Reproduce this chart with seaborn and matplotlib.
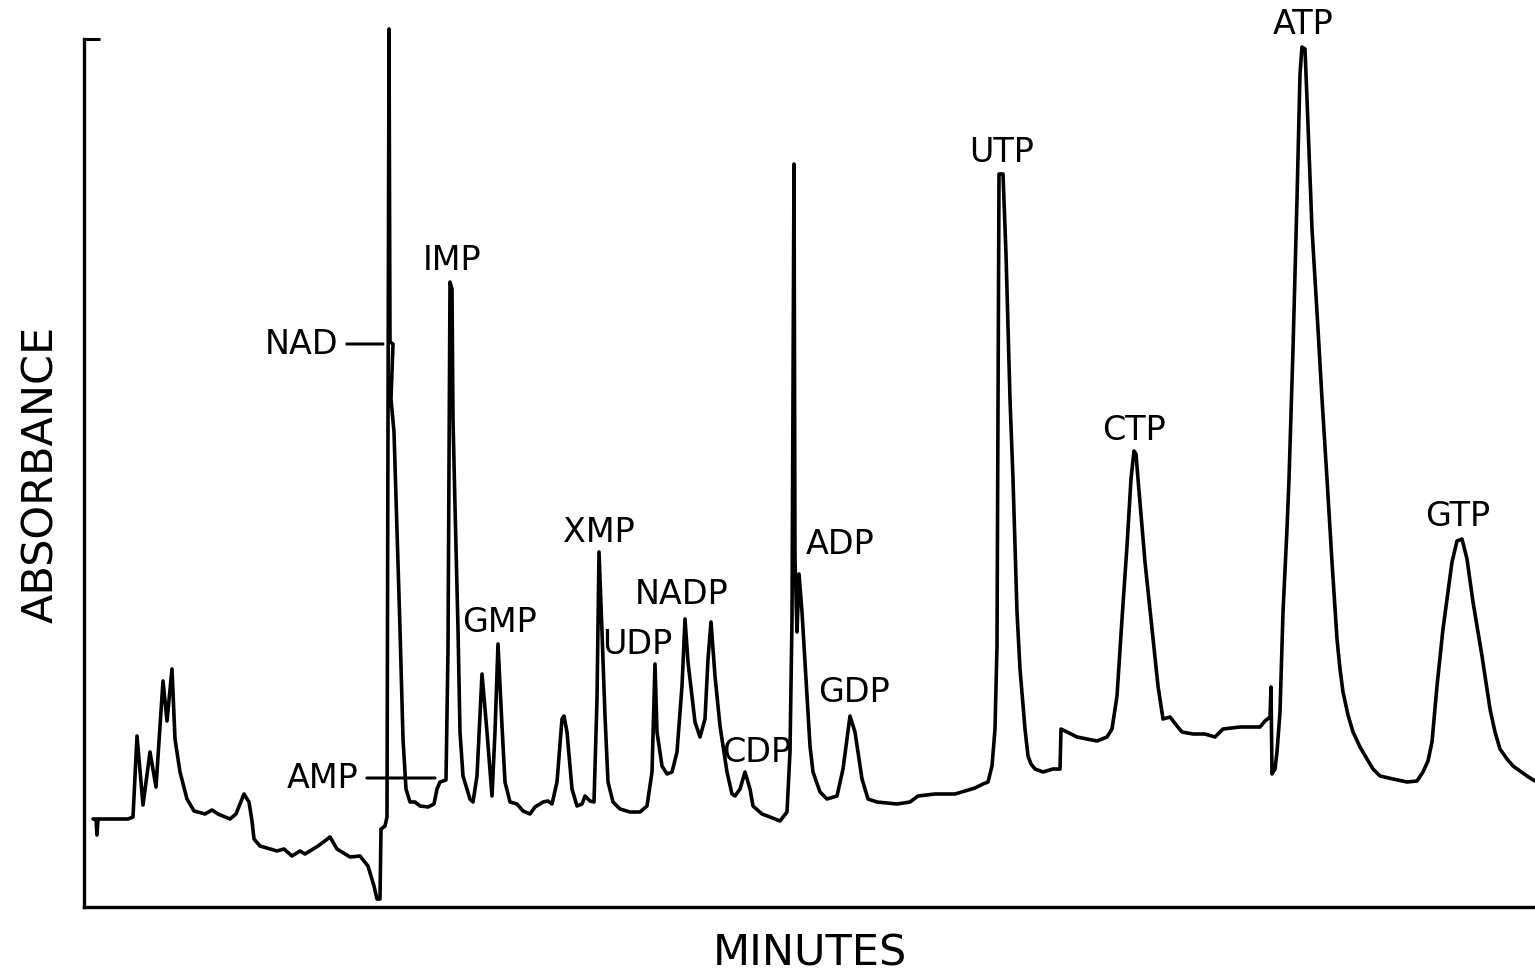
import numpy as np
import pandas as pd
import matplotlib
matplotlib.use("Agg")
import matplotlib.pyplot as plt
import seaborn as sns

# ---- data (time: arbitrary units, absorbance: arbitrary units)
time = [9, 12, 13, 14, 44, 49, 53, 59, 66, 72, 79, 83, 88, 91, 96, 103, 110, 121, 128, 134,
        146, 152, 160, 165, 168, 170, 176, 193, 200, 208, 216, 221, 234, 246, 253, 266, 276, 284, 290, 293,
        296, 297, 301, 303, 305, 306, 309, 307, 310, 316, 319, 322, 326, 331, 336, 344, 350, 353, 356, 362,
        364, 366, 368, 369, 371, 374, 376, 379, 386, 389, 393, 398, 403, 408, 411, 414, 418, 421, 426, 433,
        439, 446, 451, 459, 464, 468, 473, 478, 480, 483, 488, 493, 498, 501, 506, 510, 513, 515, 518, 521,
        524, 529, 536, 546, 556, 563, 568, 571, 573, 578, 583, 588, 593, 598, 601, 604, 611, 616, 621, 624,
        627, 631, 636, 643, 648, 651, 656, 661, 666, 669, 678, 686, 696, 703, 706, 708, 710, 711, 713, 715,
        718, 723, 726, 729, 736, 743, 753, 759, 766, 771, 778, 784, 793, 803, 813, 826, 834, 851, 871, 881,
        891, 899, 904, 908, 911, 913, 915, 919, 922, 926, 929, 933, 936, 941, 944, 947, 951, 959, 969, 976, 977,
        983, 993, 1003, 1013, 1023, 1028, 1033, 1038, 1043, 1047, 1050, 1052, 1054, 1061, 1068, 1074, 1079, 1086, 1093, 1098,
        1109, 1121, 1131, 1139, 1156, 1176, 1181, 1186, 1187, 1188, 1191, 1193, 1196, 1199, 1203, 1205, 1209, 1213, 1216, 1218,
        1221, 1223, 1228, 1234, 1238, 1243, 1248, 1253, 1256, 1259, 1264, 1269, 1276, 1283, 1289, 1296, 1309, 1323, 1333, 1339,
        1344, 1348, 1353, 1359, 1368,
        1373, 1378, 1383, 1389, 1398, 1406, 1411, 1416, 1423, 1429, 1443, 1451]
absorbance = [88, 88, 72, 88, 88, 90, 171, 102, 155, 120, 226, 186, 238, 168, 135, 108, 96, 93, 97, 93,
              88, 93, 113, 105, 86, 68, 61, 56, 58, 51, 56, 53, 61, 70, 58, 50, 51, 41, 21, 8,
              8, 78, 81, 90, 878, 565, 563, 508, 475, 278, 168, 118, 105, 105, 101, 100, 103, 118, 125, 127,
              258, 625, 618, 488, 401, 278, 175, 131, 108, 105, 131, 233, 175, 111, 175, 263, 181, 125, 105, 103,
              96, 93, 100, 105, 106, 103, 125, 188, 191, 175, 118, 101, 103, 111, 106, 105, 208, 355, 275, 191,
              125, 105, 98, 95, 95, 101, 135, 243, 175, 141, 133, 135, 155, 221, 288, 245, 185, 170, 188, 248,
              285, 231, 181, 135, 113, 111, 118, 135, 118, 101, 93, 90, 86, 95, 155, 288, 743, 348, 275, 333,
              295, 211, 161, 135, 115, 108, 111, 138, 191, 175, 128, 108, 105, 104, 103, 105, 111, 113, 113, 116,
              119, 123, 125, 141, 178, 261, 733, 733, 653, 508, 428, 295, 238, 178, 151, 143, 138, 135, 138, 138, 178,
              175, 170, 168, 166, 170, 178, 211, 288, 361, 428, 456, 453, 428, 345, 278, 221, 188, 190, 181, 175,
              173, 173, 170, 178, 180, 180, 186, 190, 220, 133, 138, 155, 195, 295, 378, 428, 558, 708, 833, 860,
              858, 808, 678, 578, 508, 428, 345, 268, 238, 215, 192, 175, 160, 148, 138, 131, 128, 125, 126, 135,
              146, 165, 221, 278, 345,
              366, 368, 348, 305, 251, 198, 175, 158, 148, 141, 131, 126]

# peak labels
peak_names = ["IMP", "GMP", "XMP", "UDP", "NADP", "CDP", "ADP", "GDP", "UTP", "CTP", "ATP", "GTP"]
peak_label_time = [368, 416, 515, 553, 598, 673, 756, 770, 918, 1050, 1219, 1374]
peak_label_abs = [648, 286, 375, 263, 313, 156, 363, 215, 756, 478, 883, 392]

# labels with leader lines
leader_names = ["NAD", "AMP"]
leader_peak_time = [299, 351]
leader_peak_abs = [563, 129]
leader_text_time = [254, 274]

df = pd.DataFrame({"time": time, "absorbance": absorbance})

sns.set_style("white")
plt.rcParams["font.family"] = ["DejaVu Sans"]
plt.rcParams["text.color"] = "black"

fig = plt.figure(figsize=(15.35, 9.78), dpi=100)
ax = fig.add_axes([84 / 1535, 70 / 978, 1451 / 1535, 868 / 978])

sns.lineplot(data=df, x="time", y="absorbance", sort=False, estimator=None,
             color="black", lw=2.6, ax=ax, clip_on=False,
             solid_joinstyle="round", solid_capstyle="round")

ax.set_xlim(0, 1451)
ax.set_ylim(0, 868)

for name, t, a in zip(peak_names, peak_label_time, peak_label_abs):
    ax.text(t, a, name, ha="center", va="center", fontsize=24, color="black", clip_on=False)

for name, pt, pa, tt in zip(leader_names, leader_peak_time, leader_peak_abs, leader_text_time):
    ax.annotate(name, xy=(pt, pa), xytext=(tt, pa), ha="right", va="center", fontsize=24,
                color="black",
                arrowprops=dict(arrowstyle="-", lw=2.2, color="black", shrinkA=4, shrinkB=0))

sns.despine(ax=ax, top=True, right=True)
for side in ["left", "bottom"]:
    ax.spines[side].set_linewidth(2.4)
    ax.spines[side].set_color("black")

ax.set_xticks([])
ax.set_yticks([868])
ax.set_yticklabels([])
ax.tick_params(axis="y", left=True, direction="in", length=11.5, width=2.2, color="black")

ax.set_xlabel("MINUTES", fontsize=31, labelpad=18, color="black")
ax.set_ylabel("ABSORBANCE", fontsize=31, labelpad=12, color="black")

fig.savefig("out.png", dpi=100, facecolor="white")
